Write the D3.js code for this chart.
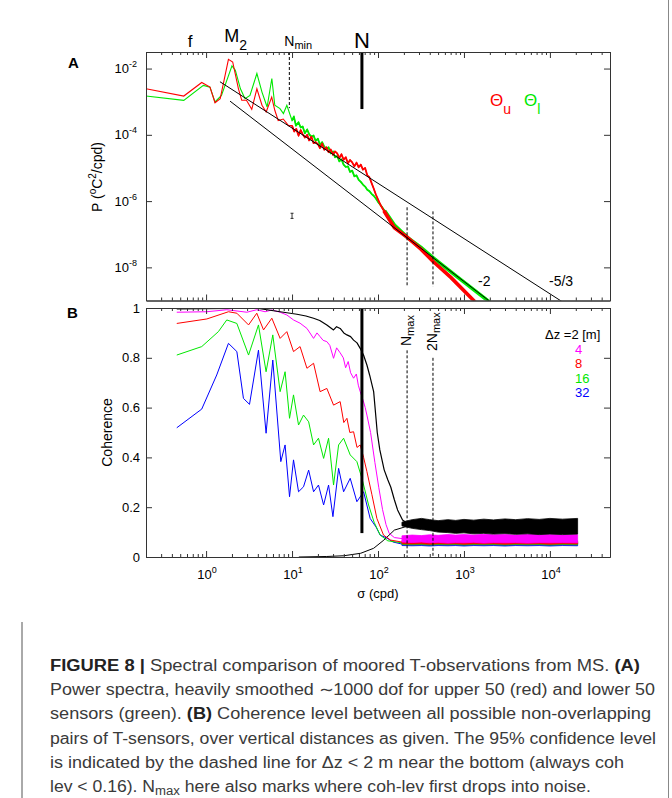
<!DOCTYPE html>
<html><head><meta charset="utf-8">
<script src="https://cdn.jsdelivr.net/npm/d3@7"></script>
<style>
body{margin:0;background:#fff}
text{font-family:"Liberation Sans",Arial,Helvetica,sans-serif;fill:#000}
</style>
</head><body>
<svg id="c" width="672" height="798"></svg>
<script>
// ---------- DATA ----------
const sigmaDomain = [0.2, 5e4];
const powerDomain = [1e-9, 0.0316];
const cohDomain = [0, 1];
const xTickDecades = [1, 10, 100, 1000, 10000];
const xTickExp = ["0", "1", "2", "3", "4"];
const yTickPowers = [1e-2, 1e-4, 1e-6, 1e-8];
const yTickPowExp = ["-2", "-4", "-6", "-8"];
const yTickCoh = [0, 0.2, 0.4, 0.6, 0.8, 1];
const yTickCohLabels = ["0", "0.2", "0.4", "0.6", "0.8", "1"];

// Panel A: power spectra (sigma in cpd, P in °C²/cpd)
const sigmaUpper = [0.2,0.55,0.89,1.11,1.27,1.46,1.82,2.04,2.38,2.6,2.95,3.4,3.9,4.47,5.0,5.8,6.3,6.9,7.9,9.1,
 10.0,10.6,11.2,11.9,12.6,13.3,14.1,15.0,15.8,16.8,17.8,18.8,20.0,21.1,22.4,23.7,25.1,26.6,28.2,29.9,31.6,33.5,35.5,37.6,39.8,42.2,44.7,47.3,50.1,53.1,56.2,59.6,63.1,66.8,70.8,75.0,79.4,84.1,89.1,94.4,100,107,117,
 155,221,316,432,708,1380];
const powerUpper = [2.45e-3,1.48e-3,3.8e-3,2.75e-3,9.3e-4,1.23e-3,1.9e-2,1.58e-2,2.45e-3,1.1e-3,1.1e-3,5.9e-4,2.45e-3,7.8e-4,4.9e-4,1.38e-3,5.5e-4,2.7e-4,3.0e-4,1.9e-4,
 1.9e-4,1.26e-4,1.51e-4,9.5e-5,1.38e-4,1.05e-4,8.3e-5,1.0e-4,6.8e-5,8.7e-5,5.6e-5,6.0e-5,5.25e-5,4.0e-5,5.4e-5,3.55e-5,4.2e-5,3.0e-5,3.6e-5,2.5e-5,3.16e-5,2.75e-5,2.0e-5,2.6e-5,1.78e-5,2.1e-5,1.38e-5,1.74e-5,1.48e-5,1.12e-5,1.45e-5,1.05e-5,1.26e-5,8.9e-6,1.0e-5,6.0e-6,5.25e-6,3.55e-6,2.4e-6,1.58e-6,1.12e-6,7.6e-7,5.1e-7,
 1.58e-7,7.9e-8,3.55e-8,1.55e-8,4.9e-9,8.5e-10];
const sigmaLower = [0.2,0.55,0.93,1.11,1.27,1.51,2.0,2.19,2.51,2.84,3.24,3.9,4.47,5.13,5.82,6.3,7.24,7.94,8.7,
 10.0,10.5,11.1,11.9,12.6,13.3,14.1,15.0,15.8,16.8,17.8,18.8,20.0,21.1,22.4,23.7,25.1,26.6,28.2,29.9,31.6,33.5,35.5,37.6,39.8,42.2,44.7,47.3,50.1,53.1,56.2,59.6,63.1,66.8,70.8,75.0,79.4,84.1,89.1,94.4,100,107,120,
 155,221,316,432,851,2040];
const powerLower = [1.48e-3,1.1e-3,3.1e-3,2.75e-3,9.8e-4,1.55e-3,1.2e-2,8.9e-3,2.45e-3,1.23e-3,1.55e-3,7.1e-3,1.95e-3,6.9e-4,5.0e-3,7.8e-4,6.2e-4,4.4e-4,7.8e-4,
 2.7e-4,3.55e-4,1.9e-4,2.4e-4,1.66e-4,1.78e-4,1.12e-4,1.45e-4,1.05e-4,8.7e-5,9.5e-5,6.6e-5,7.6e-5,5.0e-5,6.0e-5,4.4e-5,3.8e-5,4.2e-5,2.75e-5,3.16e-5,2.1e-5,2.3e-5,1.58e-5,1.82e-5,1.26e-5,1.07e-5,1.12e-5,7.6e-6,8.3e-6,5.6e-6,6.0e-6,4.4e-6,3.8e-6,3.16e-6,2.75e-6,2.2e-6,2.0e-6,1.66e-6,1.45e-6,1.2e-6,9.5e-7,7.6e-7,5.0e-7,
 1.9e-7,7.9e-8,4.0e-8,2.0e-8,5.0e-9,8.5e-10];
// reference slopes (end points)
const slope53Sigma = [1.45, 15000];
const slope53Power = [4.0e-3, 8.1e-10];
const slope2Sigma = [1.9, 2100];
const slope2Power = [1.04e-3, 8.5e-10];
const errSigma = 10, errPower = [3.0e-7, 4.3e-7];

// marker frequencies (cpd)
const fFreq = 0.65, m2Freq = 1.93, nMinFreq = 9.3, nFreq = 65, nMaxFreq = 218, n2MaxFreq = 436;

// Panel B: coherence
const cohLabels = ["\u0394z =2 [m]", "4", "8", "16", "32"];
const sigmaDz2 = [0.456,3.89,7.27,11.4,14.5,17.8,21,25.4,30.4,33,36.3,40,43.5,48,52,57,62.1,68,74.3,80,89,98,105,118,130,141,155,169,193,221];
const cohDz2 =   [0.996,0.999,0.985,0.975,0.968,0.959,0.95,0.932,0.912,0.925,0.918,0.9,0.892,0.885,0.871,0.86,0.838,0.81,0.771,0.73,0.664,0.50,0.43,0.35,0.31,0.28,0.23,0.189,0.149,0.135];
const sigmaDz4 = [0.456,1.02,1.74,2.98,3.89,4.86,5.82,7.27,8.7,10.4,12.4,14.9,17.8,19.5,21.2,23,25.4,27.5,30.4,33,36.3,39.5,42,45,48,52,56,59,62.1,67,71,74.3,82,92,102,113,124,135,155,190];
const cohDz4 =   [0.983,0.985,0.993,0.983,0.993,0.985,0.992,0.983,0.972,0.952,0.939,0.918,0.878,0.90,0.885,0.87,0.865,0.85,0.798,0.84,0.82,0.80,0.76,0.785,0.74,0.718,0.735,0.69,0.664,0.63,0.60,0.57,0.50,0.38,0.28,0.19,0.13,0.095,0.078,0.074];
const sigmaDz8 = [0.456,1.02,1.82,2.28,3.12,3.89,4.66,5.82,7.27,8.7,10.4,12.4,14.9,17.8,21.2,25.4,30.4,36.3,40,43.5,47,52,57,62.1,68,74.3,85,97,116,140,190];
const cohDz8 =   [0.938,0.956,0.985,0.979,0.932,0.979,0.912,0.959,0.878,0.905,0.825,0.845,0.758,0.778,0.664,0.677,0.610,0.624,0.54,0.557,0.50,0.503,0.44,0.450,0.40,0.343,0.25,0.155,0.088,0.068,0.06];
const sigmaDz16 = [0.456,0.89,1.39,1.74,2.28,3.12,4.07,4.99,5.97,7.27,8.3,9.35,10.4,11.9,13.6,15.6,17.8,20.3,23.3,26.6,30.4,34.8,39.8,47.5,56.8,65,77.7,90,106,130,190];
const cohDz16 =   [0.811,0.845,0.905,0.952,0.938,0.811,0.932,0.744,0.892,0.664,0.744,0.557,0.651,0.530,0.570,0.543,0.450,0.477,0.396,0.477,0.289,0.450,0.477,0.410,0.383,0.316,0.209,0.14,0.088,0.065,0.057];
const sigmaDz32 = [0.456,0.89,1.33,1.82,2.28,2.72,3.2,4.07,4.99,5.97,7.4,8.3,9.35,10.4,11.9,13.6,15.6,17.8,20.3,23.3,26.6,29.9,34.8,39.8,47.5,56.8,68,81,95,106,127,150,190];
const cohDz32 =   [0.519,0.594,0.731,0.858,0.825,0.637,0.613,0.831,0.497,0.791,0.383,0.450,0.242,0.390,0.262,0.282,0.349,0.262,0.289,0.209,0.289,0.162,0.356,0.262,0.316,0.222,0.262,0.155,0.12,0.088,0.076,0.06,0.052];
const sigmaConf = [12,25,40,63,89,117,155,221];
const cohConf =   [0,0.002,0.005,0.015,0.035,0.068,0.108,0.124];
// noise-floor bands (upper / lower envelope)
const bandSigma = [190,250,320,400,500,650,800,1000,1300,1700,2200,3000,4000,5500,7500,10000,14000,21000];
const dz2High = [0.14,0.150,0.155,0.150,0.146,0.150,0.147,0.151,0.148,0.152,0.149,0.153,0.150,0.154,0.151,0.155,0.152,0.155];
const dz2Low  = [0.125,0.115,0.110,0.106,0.100,0.098,0.095,0.097,0.093,0.095,0.092,0.094,0.091,0.093,0.090,0.092,0.090,0.092];
const dz4High = [0.085,0.088,0.086,0.089,0.087,0.090,0.088,0.090,0.088,0.091,0.089,0.090,0.088,0.091,0.089,0.090,0.088,0.090];
const dz4Low  = [0.060,0.058,0.060,0.057,0.059,0.056,0.058,0.057,0.059,0.056,0.058,0.057,0.058,0.056,0.058,0.057,0.058,0.057];
const dz8High = [0.066,0.065,0.066,0.064,0.066,0.065,0.066,0.064,0.066,0.065,0.066,0.064,0.066,0.065,0.066,0.064,0.066,0.065];
const dz8Low  = [0.053,0.052,0.053,0.051,0.053,0.052,0.053,0.051,0.053,0.052,0.053,0.051,0.053,0.052,0.053,0.051,0.053,0.052];
const dz16High = [0.062,0.061,0.062,0.060,0.062,0.061,0.062,0.060,0.062,0.061,0.062,0.060,0.062,0.061,0.062,0.060,0.062,0.061];
const dz16Low  = [0.050,0.049,0.050,0.048,0.050,0.049,0.050,0.048,0.050,0.049,0.050,0.048,0.050,0.049,0.050,0.048,0.050,0.049];
const dz32High = [0.058,0.057,0.058,0.056,0.058,0.057,0.058,0.056,0.058,0.057,0.058,0.056,0.058,0.057,0.058,0.056,0.058,0.057];
const dz32Low  = [0.046,0.045,0.046,0.044,0.046,0.045,0.046,0.044,0.046,0.045,0.046,0.044,0.046,0.045,0.046,0.044,0.046,0.045];

const captionLines = [
 [["FIGURE 8 |",1],[" Spectral comparison of moored T-observations from MS. ",0],["(A)",1]],
 [["Power spectra, heavily smoothed \u223C1000 dof for upper 50 (red) and lower 50",0]],
 [["sensors (green). ",0],["(B)",1],[" Coherence level between all possible non-overlapping",0]],
 [["pairs of T-sensors, over vertical distances as given. The 95% confidence level",0]],
 [["is indicated by the dashed line for \u0394z < 2 m near the bottom (always coh",0]],
 [["lev < 0.16). N",0],["max",2],[" here also marks where coh-lev first drops into noise.",0]]
];
const captionWidths = [590, 605, 601, 606, 574, 541];

// ---------- LAYOUT ----------
const COL = {red:"#ff0000", green:"#00e800", mag:"#ff00ff", blue:"#0000ff", blk:"#000000"};
const X0=146, X1=610, A_TOP=52, A_BOT=300.5, B_TOP=308, B_BOT=557;
const svg = d3.select("#c");
const x = d3.scaleLog().domain(sigmaDomain).range([X0, X1]);
const yA = d3.scaleLog().domain(powerDomain).range([A_BOT, A_TOP]);
const yB = d3.scaleLinear().domain(cohDomain).range([B_BOT, B_TOP]);
const defs = svg.append("defs");
defs.append("clipPath").attr("id","clipA").append("rect").attr("x",X0).attr("y",A_TOP).attr("width",X1-X0).attr("height",A_BOT-A_TOP);
defs.append("clipPath").attr("id","clipB").append("rect").attr("x",X0).attr("y",B_TOP).attr("width",X1-X0).attr("height",B_BOT-B_TOP);

const allX = x.ticks();
const minorX = allX.filter(v => !xTickDecades.some(d => Math.abs(d - v) < 1e-9));
const frameCol = "#333";

function xAxes(yTop, yBot){
  const g = svg.append("g");
  const mk = (axisFn, vals, size, y) => {
    const a = g.append("g").attr("transform",`translate(0,${y})`)
      .call(axisFn(x).tickValues(vals).tickSize(size).tickSizeOuter(0).tickFormat(""));
    a.selectAll("path,line").attr("stroke",frameCol);
  };
  mk(d3.axisBottom, minorX, -3, yBot);
  mk(d3.axisBottom, xTickDecades, -6, yBot);
  mk(d3.axisTop, minorX, -3, yTop);
  mk(d3.axisTop, xTickDecades, -6, yTop);
}
function yAxes(scale, vals){
  const g = svg.append("g");
  g.append("g").attr("transform",`translate(${X0},0)`).call(d3.axisLeft(scale).tickValues(vals).tickSize(-6).tickSizeOuter(0).tickFormat(""));
  g.append("g").attr("transform",`translate(${X1},0)`).call(d3.axisRight(scale).tickValues(vals).tickSize(-6).tickSizeOuter(0).tickFormat(""));
  g.selectAll("path,line").attr("stroke",frameCol);
}
function sci(g, px, py, exp, anchor){
  const t = g.append("text").attr("x",px).attr("y",py).attr("text-anchor",anchor).attr("font-size",13);
  t.append("tspan").text("10");
  t.append("tspan").attr("dy",-6).attr("font-size",9).text(exp);
  return t;
}
function line(sx, sy, xs, ys){
  return d3.line().x((d,i)=>sx(xs[i])).y((d,i)=>sy(ys[i]))(xs);
}
function vline(g, xv, y1, y2, w, dash){
  const l = g.append("line").attr("x1",x(xv)).attr("x2",x(xv)).attr("y1",y1).attr("y2",y2)
    .attr("stroke","#000").attr("stroke-width",w);
  if(dash) l.attr("stroke-dasharray",dash);
}

// ---------- PANEL A ----------
const gA = svg.append("g").attr("clip-path","url(#clipA)");
function spec(xs, ys, col){
  gA.append("path").attr("d",line(x,yA,xs,ys)).attr("fill","none").attr("stroke",col).attr("stroke-width",1.1);
  const idx = xs.map((v,i)=>i).filter(i=>xs[i]>=10);
  gA.append("path").attr("d",line(x,yA,idx.map(i=>xs[i]),idx.map(i=>ys[i]))).attr("fill","none").attr("stroke",col).attr("stroke-width",1.8).attr("stroke-linejoin","round");
  const idx3 = xs.map((v,i)=>i).filter(i=>xs[i]>=117);
  gA.append("path").attr("d",line(x,yA,idx3.map(i=>xs[i]),idx3.map(i=>ys[i]))).attr("fill","none").attr("stroke",col).attr("stroke-width",3.6);
}
spec(sigmaLower, powerLower, COL.green);
spec(sigmaUpper, powerUpper, COL.red);
gA.append("path").attr("d",line(x,yA,slope53Sigma,slope53Power)).attr("stroke","#000").attr("stroke-width",1).attr("fill","none");
gA.append("path").attr("d",line(x,yA,slope2Sigma,slope2Power)).attr("stroke","#000").attr("stroke-width",1).attr("fill","none");
// error bar
const ex = x(errSigma);
gA.append("line").attr("x1",ex).attr("x2",ex).attr("y1",yA(errPower[0])).attr("y2",yA(errPower[1])).attr("stroke","#000").attr("stroke-width",0.8);
[errPower[0],errPower[1]].forEach(p=>gA.append("line").attr("x1",ex-1.5).attr("x2",ex+1.5).attr("y1",yA(p)).attr("y2",yA(p)).attr("stroke","#000").attr("stroke-width",0.8));
const mA = svg.append("g");
vline(mA, nMinFreq, A_TOP, yA(6.4e-4), 1, "3,2");
vline(mA, nFreq, A_TOP, yA(6.0e-4), 3, null);
vline(mA, nMaxFreq, yA(6.5e-7), yA(2.65e-9), 1, "3,2");
vline(mA, n2MaxFreq, yA(4.9e-7), yA(2.65e-9), 1, "3,2");
xAxes(A_TOP, A_BOT);
yAxes(yA, yTickPowers);
const lA = svg.append("g");
yTickPowers.forEach((v,i)=>sci(lA, 137, yA(v)+4.5, yTickPowExp[i], "end"));
lA.append("text").attr("x",68).attr("y",68).attr("font-size",15).attr("font-weight","bold").text("A");
// top labels
lA.append("text").attr("x",x(fFreq)).attr("y",47).attr("font-size",17).attr("text-anchor","middle").text("f");
const m2 = lA.append("text").attr("x",x(m2Freq)-6.5).attr("y",42).attr("font-size",18);
m2.append("tspan").text("M");
m2.append("tspan").attr("dy",8).attr("font-size",14).text("2");
const nm = lA.append("text").attr("x",x(nMinFreq)-5).attr("y",46).attr("font-size",14);
nm.append("tspan").text("N");
nm.append("tspan").attr("dy",3).attr("font-size",11).text("min");
lA.append("text").attr("x",x(nFreq)).attr("y",48).attr("font-size",22).attr("text-anchor","middle").text("N");
// y label A
const yl = lA.append("text").attr("transform","translate(102,177) rotate(-90)").attr("text-anchor","middle").attr("font-size",14);
yl.append("tspan").text("P (");
yl.append("tspan").attr("dy",-6).attr("font-size",10).text("o");
yl.append("tspan").attr("dy",6).text("C");
yl.append("tspan").attr("dy",-6).attr("font-size",10).text("2");
yl.append("tspan").attr("dy",6).text("/cpd)");
// slope labels
lA.append("text").attr("x",478).attr("y",286).attr("font-size",14).text("-2");
lA.append("text").attr("x",549).attr("y",286).attr("font-size",14).text("-5/3");
// legend A
const th1 = lA.append("text").attr("x",490).attr("y",106).attr("font-size",17).style("fill",COL.red);
th1.append("tspan").text("\u0398");
th1.append("tspan").attr("dy",8).attr("font-size",14).text("u");
const th2 = lA.append("text").attr("x",524).attr("y",106).attr("font-size",17).style("fill",COL.green);
th2.append("tspan").text("\u0398");
th2.append("tspan").attr("dy",8).attr("font-size",14).text("l");

// ---------- PANEL B ----------
const gB = svg.append("g").attr("clip-path","url(#clipB)");
function band(lo, hi, col){
  const ar = d3.area().x((d,i)=>x(bandSigma[i])).y0((d,i)=>yB(lo[i])).y1((d,i)=>yB(hi[i]));
  gB.append("path").attr("d",ar(bandSigma)).attr("fill",col).attr("stroke",col).attr("stroke-width",0.8);
}
function coh(xs, ys, col, w){
  gB.append("path").attr("d",line(x,yB,xs,ys)).attr("fill","none").attr("stroke",col).attr("stroke-width",w||1).attr("stroke-linejoin","round");
}
gB.append("path").attr("d",line(x,yB,sigmaConf,cohConf)).attr("fill","none").attr("stroke","#000").attr("stroke-width",1);
band(dz32Low, dz32High, COL.blue);
coh(sigmaDz32, cohDz32, COL.blue);
band(dz16Low, dz16High, COL.green);
coh(sigmaDz16, cohDz16, COL.green);
band(dz8Low, dz8High, COL.red);
coh(sigmaDz8, cohDz8, COL.red);
band(dz4Low, dz4High, COL.mag);
coh(sigmaDz4, cohDz4, COL.mag);
band(dz2Low, dz2High, COL.blk);
coh(sigmaDz2, cohDz2, COL.blk, 1.2);
const mB = svg.append("g");
vline(mB, nFreq, B_TOP, yB(0.096), 3, null);
vline(mB, nMaxFreq, yB(0.83), B_BOT, 1, "3,2");
vline(mB, n2MaxFreq, yB(0.80), B_BOT, 1, "3,2");
xAxes(B_TOP, B_BOT);
yAxes(yB, yTickCoh);
const lB = svg.append("g");
yTickCoh.forEach((v,i)=>lB.append("text").attr("x",140).attr("y",yB(v)+4.5).attr("text-anchor","end").attr("font-size",13).text(yTickCohLabels[i]));
xTickDecades.forEach((v,i)=>sci(lB, x(v)+1, 579, xTickExp[i], "middle"));
lB.append("text").attr("x",67).attr("y",318).attr("font-size",15).attr("font-weight","bold").text("B");
lB.append("text").attr("x",(X0+X1)/2).attr("y",598).attr("text-anchor","middle").attr("font-size",13).text("\u03C3 (cpd)");
lB.append("text").attr("transform",`translate(112,${(B_TOP+B_BOT)/2}) rotate(-90)`).attr("text-anchor","middle").attr("font-size",14).text("Coherence");
function rotLabel(px, py, pre){
  const t = lB.append("text").attr("transform",`translate(${px},${py}) rotate(-90)`).attr("font-size",14);
  t.append("tspan").text(pre + "N");
  t.append("tspan").attr("dy",3).attr("font-size",11).text("max");
}
rotLabel(x(nMaxFreq)+4, 346, "");
rotLabel(x(n2MaxFreq)+4, 351, "2");
const legCols = [COL.blk, COL.mag, COL.red, COL.green, COL.blue];
const legY = [339, 353.5, 368, 382.5, 397];
cohLabels.forEach((s,i)=>lB.append("text").attr("x", i===0?545:575).attr("y",legY[i]).attr("font-size",13).style("fill",legCols[i]).text(s));

// ---------- CAPTION ----------
const gc = svg.append("g");
captionLines.forEach((parts,i)=>{
  const t = gc.append("text").attr("x",50).attr("y",671 + i*24.2).attr("font-size",16)
    .attr("textLength",captionWidths[i]).attr("lengthAdjust","spacingAndGlyphs").style("fill","#3a3a3a");
  parts.forEach(([s,k],j)=>{
    const ts = t.append("tspan").text(s);
    if(k===1) ts.attr("font-weight","bold").style("fill","#222");
    if(k===2) ts.attr("font-size",12).attr("dy",3);
    if(j>0 && parts[j-1][1]===2) ts.attr("dy",-3);
  });
});
gc.append("line").attr("x1",22).attr("x2",22).attr("y1",622).attr("y2",798).attr("stroke","#555").attr("stroke-width",1);
gc.append("line").attr("x1",668.5).attr("x2",668.5).attr("y1",0).attr("y2",798).attr("stroke","#888").attr("stroke-width",1);
</script>
</body></html>
